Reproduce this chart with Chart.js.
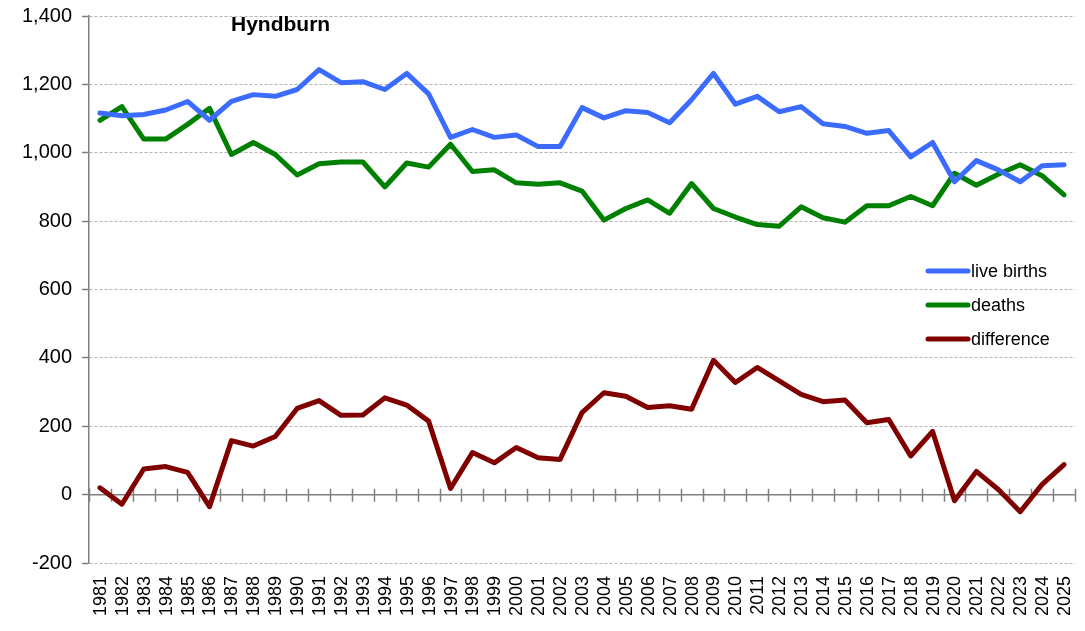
<!DOCTYPE html>
<html>
<head>
<meta charset="utf-8">
<script src="https://cdn.jsdelivr.net/npm/chart.js@4/dist/chart.umd.min.js"></script>
<style>
  html, body { margin: 0; padding: 0; background: #fff; }
  #wrap { width: 1085px; height: 631px; }
</style>
</head>
<body>
<div id="wrap"><canvas id="chart"></canvas></div>
<script>
const years = [];
for (let y = 1981; y <= 2025; y++) years.push(String(y));

const liveBirths = [1116, 1108, 1112, 1125, 1150, 1095, 1150, 1170, 1165, 1185,
  1243, 1205, 1208, 1185, 1232, 1172, 1045, 1068, 1045, 1052,
  1018, 1018, 1132, 1102, 1123, 1118, 1088, 1155, 1232, 1142,
  1165, 1120, 1135, 1085, 1077, 1057, 1065, 988, 1030, 915,
  977, 950, 915, 962, 965];

const deaths = [1095, 1135, 1040, 1040, 1083, 1130, 995, 1030, 995, 935,
  968, 973, 973, 900, 970, 958, 1025, 945, 950, 912,
  908, 912, 888, 803, 837, 862, 823, 910, 837, 812,
  790, 785, 842, 810, 797, 845, 845, 872, 845, 940,
  905, 937, 965, 933, 877];

const difference = [20, -28, 75, 82, 65, -35, 158, 142, 170, 252,
  275, 232, 233, 283, 262, 215, 18, 123, 93, 138,
  108, 103, 240, 298, 288, 255, 260, 250, 393, 328,
  372, 333, 293, 272, 277, 210, 220, 113, 185, -18,
  68, 15, -50, 30, 88];

const yTicks = [-200, 0, 200, 400, 600, 800, 1000, 1200, 1400];

const FONT = "'Liberation Sans', Arial, sans-serif";

function line(label, data, color) {
  return {
    label: label,
    data: data,
    borderColor: color,
    backgroundColor: color,
    borderWidth: 5,
    pointRadius: 0,
    tension: 0,
    borderCapStyle: "round",
    borderJoinStyle: "round",
    fill: false
  };
}

const extras = {
  id: "extras",
  beforeDatasetsDraw(chart) {
    const { ctx, scales: { x, y }, chartArea } = chart;
    const y0 = y.getPixelForValue(0);
    const step = x.getPixelForValue(1) - x.getPixelForValue(0);
    ctx.save();
    ctx.strokeStyle = "#808080";
    ctx.lineWidth = 1.5;
    ctx.beginPath();
    ctx.moveTo(chartArea.left, y0);
    ctx.lineTo(chartArea.right, y0);
    for (let i = 0; i <= years.length; i++) {
      const px = Math.round(x.getPixelForValue(i) - step / 2) + 0.5;
      ctx.moveTo(px, y0 - 6);
      ctx.lineTo(px, y0 + 7);
    }
    ctx.stroke();
    ctx.restore();
  },
  afterDraw(chart) {
    const { ctx, scales: { x }, chartArea } = chart;
    ctx.save();
    // year labels, reading bottom to top
    ctx.fillStyle = "#000";
    ctx.font = "18px " + FONT;
    ctx.textAlign = "right";
    ctx.textBaseline = "middle";
    years.forEach((yr, i) => {
      const px = x.getPixelForValue(i);
      ctx.save();
      ctx.translate(px + 1, chartArea.bottom + 13);
      ctx.rotate(-Math.PI / 2);
      ctx.fillText(yr, 0, 0);
      ctx.restore();
    });

    // title
    ctx.font = "bold 21px " + FONT;
    ctx.textAlign = "left";
    ctx.fillText("Hyndburn", 231, 25);

    // legend
    ctx.font = "18px " + FONT;
    const rows = [271, 305, 339];
    chart.data.datasets.forEach((ds, i) => {
      const ly = rows[i];
      ctx.strokeStyle = ds.borderColor;
      ctx.lineWidth = 5;
      ctx.lineCap = "round";
      ctx.beginPath();
      ctx.moveTo(928, ly);
      ctx.lineTo(968, ly);
      ctx.stroke();
      ctx.fillText(ds.label, 971, ly + 1);
    });
    ctx.restore();
  }
};

new Chart(document.getElementById("chart"), {
  type: "line",
  data: {
    labels: years,
    datasets: [
      line("live births", liveBirths, "#3b6cff"),
      line("deaths", deaths, "#008000"),
      line("difference", difference, "#800000")
    ]
  },
  options: {
    responsive: true,
    maintainAspectRatio: false,
    animation: false,
    layout: { padding: { top: 16, right: 10, left: 0, bottom: 0 } },
    plugins: {
      legend: { display: false },
      tooltip: { enabled: false }
    },
    scales: {
      x: {
        type: "category",
        offset: true,
        grid: { display: false },
        border: { display: false },
        ticks: { display: false },
        afterFit(scale) { scale.height = 68; }
      },
      y: {
        min: -200,
        max: 1400,
        afterBuildTicks(scale) {
          scale.ticks = yTicks.map(v => ({ value: v }));
        },
        afterFit(scale) {
          scale.width = 89;
          scale.paddingTop = 0;
          scale.paddingBottom = 0;
        },
        border: { display: true, color: "#808080", width: 1.5, dash: [3, 2] },
        grid: {
          color: "#b4b4b4",
          lineWidth: 1,
          drawTicks: true,
          tickLength: 7,
          tickColor: "#808080",
          tickBorderDash: [],
          tickWidth: 1.5
        },
        ticks: {
          color: "#000",
          padding: 10,
          font: { family: FONT, size: 20 },
          callback: v => v.toLocaleString("en-US")
        }
      }
    }
  },
  plugins: [extras]
});
</script>
</body>
</html>
